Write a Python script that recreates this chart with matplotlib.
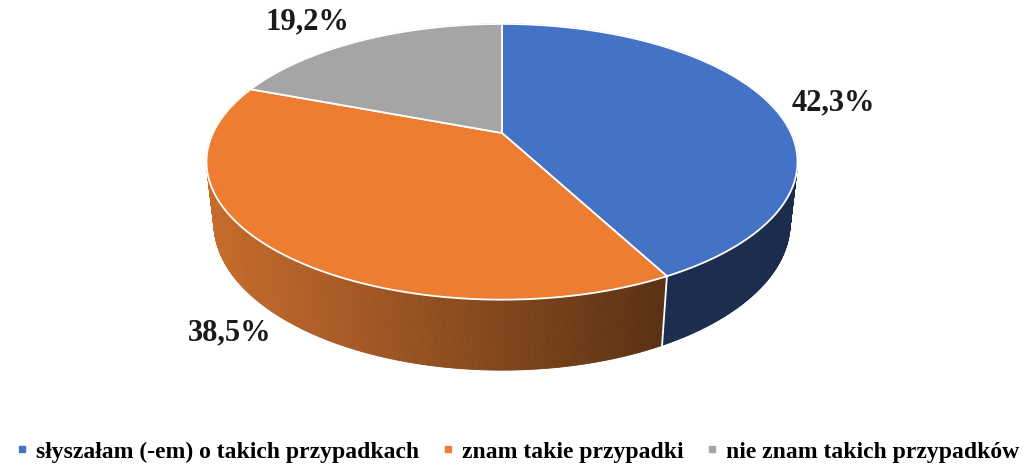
import numpy as np
import matplotlib.pyplot as plt
from matplotlib.collections import PolyCollection
from matplotlib.colors import to_rgb
from matplotlib.lines import Line2D

categories = ['słyszałam (-em) o takich przypadkach', 'znam takie przypadki', 'nie znam takich przypadków']
values = [42.3, 38.5, 19.2]
value_labels = ['42,3%', '38,5%', '19,2%']

top_colors = ['#4472C4', '#ED7D31', '#A5A5A5']
side_colors = [('#1B2C4F', '#1B2C4F'), ('#C86C2D', '#5A3112'), ('#6E6E6E', '#6E6E6E')]
label_pos = [(833, 103), (230, 333), (307, 22)]

# simple perspective camera, pixel coordinates
CX, CY = 502, 133
FX, FY = 1236, 1255
D = 4.277
TILT = np.radians(26.7)
THICK = 0.235


def project(phi, h=0.0):
    x = np.cos(phi)
    z = np.sin(phi)
    yc = z * np.sin(TILT) + h * np.cos(TILT)
    dc = z * np.cos(TILT) - h * np.sin(TILT) + D
    return CX + FX * x / dc, CY - FY * yc / dc


fig = plt.figure(figsize=(10.23, 4.67), dpi=100)
ax = fig.add_axes([0, 0, 1, 1])
ax.set_xlim(0, 1023)
ax.set_ylim(467, 0)
ax.axis('off')

fracs = np.array(values) / sum(values)
bounds = np.pi / 2 - 2 * np.pi * np.concatenate([[0], np.cumsum(fracs)])

# side of the pie, drawn as thin strips back to front
strips, cols, keys = [], [], []
for i in range(len(values)):
    phis = np.linspace(bounds[i], bounds[i + 1], 400)
    c0, c1 = np.array(to_rgb(side_colors[i][0])), np.array(to_rgb(side_colors[i][1]))
    for p1, p2 in zip(phis[:-1], phis[1:]):
        tx1, ty1 = project(p1)
        tx2, ty2 = project(p2)
        bx1, by1 = project(p1, -THICK)
        bx2, by2 = project(p2, -THICK)
        strips.append([(tx1, ty1), (tx2, ty2), (bx2, by2), (bx1, by1)])
        t = np.clip(((tx1 + tx2) / 2 - 207) / (662 - 207), 0, 1)
        cols.append(c0 + (c1 - c0) * t)
        keys.append(np.sin((p1 + p2) / 2))
order = np.argsort(keys)[::-1]
ax.add_collection(PolyCollection([strips[k] for k in order],
                                 facecolors=[cols[k] for k in order],
                                 edgecolors=[cols[k] for k in order], linewidths=0.6))

# white seams on the visible side
for b in bounds[1:-1]:
    if np.sin(b) < 0:
        x1, y1 = project(b)
        x2, y2 = project(b, -THICK)
        ax.plot([x1, x2], [y1, y2], color='white', lw=1.3)

# top faces
for i in range(len(values)):
    phis = np.linspace(bounds[i], bounds[i + 1], 300)
    xs, ys = project(phis)
    poly = np.column_stack([np.r_[CX, xs], np.r_[CY, ys]])
    ax.fill(poly[:, 0], poly[:, 1], facecolor=top_colors[i], edgecolor='white', lw=1.3)

for txt, (x, y) in zip(value_labels, label_pos):
    ax.text(x, y, txt, ha='center', va='center', fontsize=22, fontweight='bold',
            family='Liberation Serif', color='#1a1a1a')

handles = [Line2D([], [], marker='s', ls='', color=c, markersize=5) for c in top_colors]
fig.legend(handles, categories, loc='center', bbox_to_anchor=(0.506, 1 - 452 / 467), ncol=3,
           frameon=False, handlelength=0.5, handletextpad=0.35, columnspacing=0.95,
           borderaxespad=0, borderpad=0,
           prop={'family': 'Liberation Serif', 'weight': 'bold', 'size': 17})

fig.savefig('out.png', dpi=100)
